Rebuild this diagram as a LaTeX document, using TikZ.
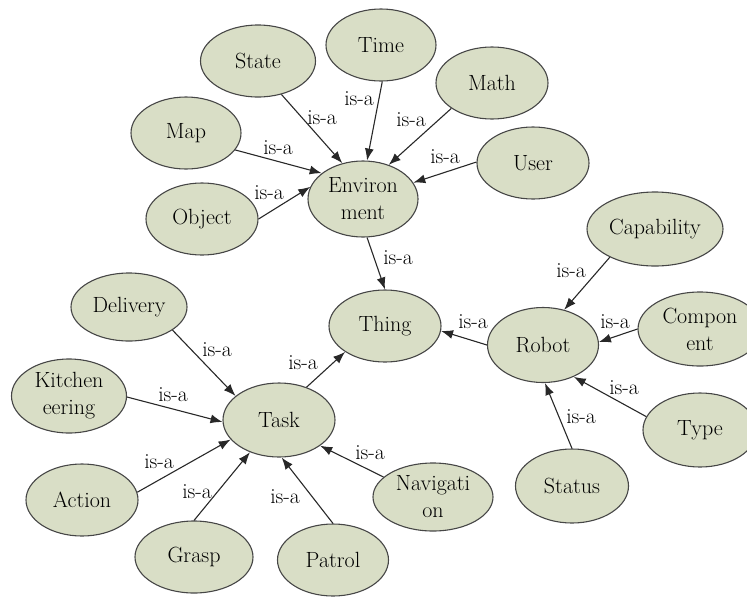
\documentclass[tikz,border=0pt]{standalone}
\usetikzlibrary{shapes.geometric,arrows.meta}
\definecolor{entfill}{RGB}{217,222,198}
\definecolor{entline}{RGB}{70,70,70}
\definecolor{linkcol}{RGB}{40,40,40}
\tikzset{
  ent/.style={ellipse, draw=entline, line width=1.1pt, fill=entfill, inner sep=0pt},
  enttext/.style={align=center, font=\fontsize{22}{27}\selectfont, inner sep=0pt},
  isa/.style={draw=linkcol, line width=1.1pt, -{Latex[length=12pt,width=9pt]}},
  lbl/.style={font=\fontsize{21.5}{26}\selectfont, inner sep=0pt}
}
% \ent{name}{x}{y}{width}{height}{text}
\newcommand\ent[6]{%
  \node[ent, minimum width=#4pt, minimum height=#5pt] (#1) at (#2,#3) {};
  \node[enttext] (#1-t) at (#1.center) {#6};}
\begin{document}
\begin{tikzpicture}[x=1pt,y=-1pt]
\useasboundingbox (0,0) rectangle (747,598);

% concepts
\ent{state}{258}{61}{115}{72}{State}
\ent{time}{381}{45}{110}{72}{Time}
\ent{math}{492}{83}{112}{72}{Math}
\ent{map}{186}{133}{110}{72}{Map}
\ent{user}{533}{163}{112}{72}{User}
\ent{object}{202}{219}{112}{72}{Object}
\ent{env}{363}{199}{110}{76}{Environ\\ment}
\ent{capab}{655}{229}{136}{74}{Capability}
\ent{thing}{385}{326}{112}{72}{Thing}
\ent{robot}{543}{345}{111}{75}{Robot}
\ent{compon}{700}{329}{124}{74}{Compon\\ent}
\ent{delivery}{129}{307}{116}{68}{Delivery}
\ent{kitchen}{69}{396}{115}{74}{Kitchen\\eering}
\ent{task}{279}{420}{112}{74}{Task}
\ent{type}{700}{430}{114}{74}{Type}
\ent{status}{572}{486}{113}{74}{Status}
\ent{action}{82}{500}{112}{72}{Action}
\ent{nav}{433}{497}{120}{68}{Navigati\\on}
\ent{grasp}{194}{557}{118}{72}{Grasp}
\ent{patrol}{333}{560}{111}{72}{Patrol}

% is-a links, child to parent
\draw[isa] (state.-55) -- (env.120);
\draw[isa] (time.-88) -- (env.84);
\draw[isa] (math.-148) -- (env.53);
\draw[isa] (map.-19) -- (env.148);
\draw[isa] (user.179) -- (env.18);
\draw[isa] (object.0) -- (env.167);
\draw[isa] (env.-84) -- (thing.90);
\draw[isa] (robot.180) -- (thing.-5);
\draw[isa] (capab.-148) -- (robot.59);
\draw[isa] (compon.180) -- (robot.3);
\draw[isa] (type.166) -- (robot.-46);
\draw[isa] (status.90) -- (robot.-87);
\draw[isa] (delivery.-28) -- (task.151);
\draw[isa] (kitchen.-1) -- (task.182);
\draw[isa] (action.8) -- (task.202);
\draw[isa] (grasp.90) -- (task.228);
\draw[isa] (patrol.90) -- (task.-86);
\draw[isa] (nav.158) -- (task.-32);
\draw[isa] (task.50) -- (thing.213);

% link labels
\node[lbl] (l1) at (322,118) {is-a};
\node[lbl] (l2) at (359,99) {is-a};
\node[lbl] (l3) at (411,120) {is-a};
\node[lbl] (l4) at (278,148) {is-a};
\node[lbl] (l5) at (445,157) {is-a};
\node[lbl] (l6) at (269,193) {is-a};
\node[lbl] (l7) at (398,258) {is-a};
\node[lbl] (l8) at (473,322) {is-a};
\node[lbl] (l9) at (571,271) {is-a};
\node[lbl] (l10) at (615,322) {is-a};
\node[lbl] (l11) at (624,388) {is-a};
\node[lbl] (l12) at (581,417) {is-a};
\node[lbl] (l13) at (217,350) {is-a};
\node[lbl] (l14) at (173,395) {is-a};
\node[lbl] (l15) at (159,462) {is-a};
\node[lbl] (l16) at (197,492) {is-a};
\node[lbl] (l17) at (285,497) {is-a};
\node[lbl] (l18) at (370,453) {is-a};
\node[lbl] (l19) at (303,363) {is-a};
\end{tikzpicture}
\end{document}
